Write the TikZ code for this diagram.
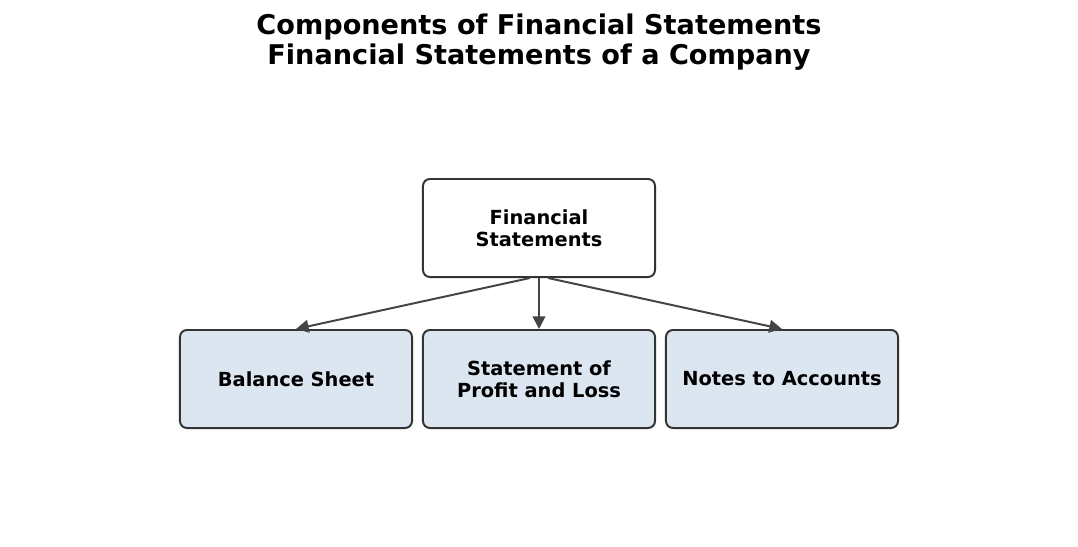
\documentclass[tikz,border=0pt]{standalone}
\usepackage{fontspec}
\setmainfont{DejaVu Sans}
\usetikzlibrary{arrows.meta,positioning}
\definecolor{BoxLine}{RGB}{51,51,51}
\definecolor{ArrowGray}{RGB}{68,68,68}
\definecolor{PartBlue}{RGB}{220,230,241}

\begin{document}
\begin{tikzpicture}[x=0.025cm,y=-0.025cm,
  box/.style={draw=BoxLine,line width=1.4pt,rounded corners=5pt,
    minimum width=5.8cm,minimum height=2.45cm,align=center,
    font=\bfseries\fontsize{13.8}{15.6}\selectfont},
  part/.style={box,fill=PartBlue},
  link/.style={draw=ArrowGray,line width=1.4pt,-{Triangle[length=9pt,width=9pt]}}]
\useasboundingbox (0,0) rectangle (1078,546);
\node[font=\bfseries\fontsize{19.3}{21.3}\selectfont,align=center] (title) at (539,42)
  {Components of Financial Statements\\Financial Statements of a Company};
\node[box,fill=white] (fs) at (539,228) {Financial\\Statements};
\node[part] (bs) at (296,379) {Balance Sheet};
\node[part] (pl) at (539,379) {Statement of\\Profit and Loss};
\node[part] (na) at (782,379) {Notes to Accounts};
\draw[link] (fs.south) ++(-9,0) -- (bs.north);
\draw[link] (fs.south) -- (pl.north);
\draw[link] (fs.south) ++(9,0) -- (na.north);
\end{tikzpicture}
\end{document}
